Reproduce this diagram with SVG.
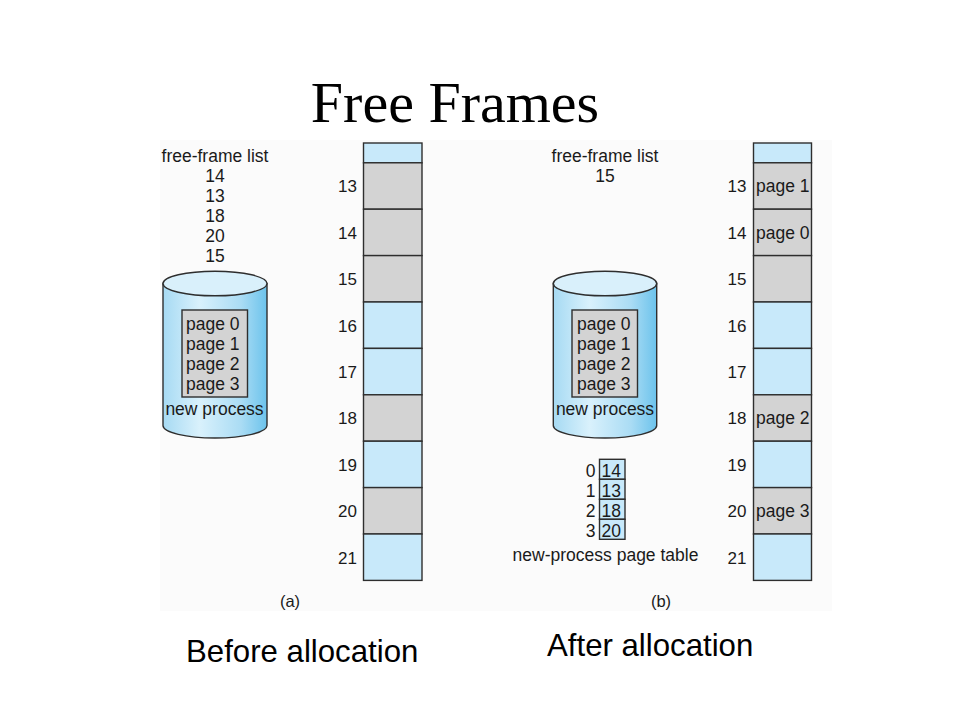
<svg xmlns="http://www.w3.org/2000/svg" width="960" height="720" viewBox="0 0 960 720">
<style>
.t{font-family:"Liberation Sans",Arial,sans-serif;font-size:17.5px;fill:#1a1a1a}
.c{text-anchor:middle}
.e{text-anchor:end}
.blue{fill:#c8e9fa;stroke:#2e2e2e;stroke-width:1.4}
.grey{fill:#d3d3d3;stroke:#2e2e2e;stroke-width:1.4}
.cyl{fill:url(#cg);stroke:#2e2e2e;stroke-width:1.4}
.cyltop{fill:#d9f0fb;stroke:#2e2e2e;stroke-width:1.4}
.box{fill:#d3d3d3;stroke:#2e2e2e;stroke-width:1.4}
.big{font-family:"Liberation Sans",Arial,sans-serif;font-size:31.2px;fill:#000}
.lbl{font-size:17px}
</style>
<defs>
<linearGradient id="cg" x1="0" y1="0" x2="1" y2="0">
<stop offset="0" stop-color="#a6daf3"/>
<stop offset="0.35" stop-color="#d9f1fc"/>
<stop offset="0.75" stop-color="#aadcf4"/>
<stop offset="1" stop-color="#6cc3ec"/>
</linearGradient>
</defs>
<rect width="960" height="720" fill="#ffffff"/>
<rect x="160" y="140" width="672" height="471" fill="#fbfbfb"/>
<text x="455" y="122" text-anchor="middle" font-family="Liberation Serif,'Times New Roman',serif" font-size="58" fill="#000">Free Frames</text>

<g id="panel-a">
<g id="freelist-a">
<text class="t c" x="215" y="162">free-frame list</text>
<text class="t c" x="215" y="182">14</text>
<text class="t c" x="215" y="202">13</text>
<text class="t c" x="215" y="222">18</text>
<text class="t c" x="215" y="242">20</text>
<text class="t c" x="215" y="262">15</text>
</g>
<g id="disk-a">
<path class="cyl" d="M163,283.5 V425.5 A52,12.5 0 0 0 267,425.5 V283.5 Z"/>
<ellipse class="cyltop" cx="215" cy="283.5" rx="52" ry="12.3"/>
<rect class="box" x="182" y="310" width="65.5" height="87"/>
<text class="t" x="186" y="330">page 0</text>
<text class="t" x="186" y="350">page 1</text>
<text class="t" x="186" y="370">page 2</text>
<text class="t" x="186" y="390">page 3</text>
<text class="t c" x="214.5" y="415">new process</text>
</g>
<g id="memory-a">
<rect class="blue" x="363.5" y="143" width="58.5" height="19.8"/>
<rect class="grey" x="363.5" y="162.8" width="58.5" height="46.4"/>
<rect class="grey" x="363.5" y="209.2" width="58.5" height="46.4"/>
<rect class="grey" x="363.5" y="255.6" width="58.5" height="46.4"/>
<rect class="blue" x="363.5" y="302" width="58.5" height="46.4"/>
<rect class="blue" x="363.5" y="348.4" width="58.5" height="46.4"/>
<rect class="grey" x="363.5" y="394.8" width="58.5" height="46.4"/>
<rect class="blue" x="363.5" y="441.2" width="58.5" height="46.4"/>
<rect class="grey" x="363.5" y="487.6" width="58.5" height="46.4"/>
<rect class="blue" x="363.5" y="534" width="58.5" height="46.4"/>
<text class="t e lbl" x="357" y="192">13</text>
<text class="t e lbl" x="357" y="238.5">14</text>
<text class="t e lbl" x="357" y="285">15</text>
<text class="t e lbl" x="357" y="331.5">16</text>
<text class="t e lbl" x="357" y="378">17</text>
<text class="t e lbl" x="357" y="424">18</text>
<text class="t e lbl" x="357" y="470.5">19</text>
<text class="t e lbl" x="357" y="517">20</text>
<text class="t e lbl" x="357" y="563.5">21</text>
</g>
<text class="t c" x="290" y="607" style="font-size:16.5px">(a)</text>
</g>

<g id="panel-b">
<g id="freelist-b">
<text class="t c" x="605" y="162">free-frame list</text>
<text class="t c" x="605" y="182">15</text>
</g>
<g id="disk-b">
<path class="cyl" d="M553.3,283.5 V425.5 A51.7,12.5 0 0 0 656.7,425.5 V283.5 Z"/>
<ellipse class="cyltop" cx="605" cy="283.5" rx="51.7" ry="12.3"/>
<rect class="box" x="572" y="310" width="65.5" height="87"/>
<text class="t" x="577" y="330">page 0</text>
<text class="t" x="577" y="350">page 1</text>
<text class="t" x="577" y="370">page 2</text>
<text class="t" x="577" y="390">page 3</text>
<text class="t c" x="605" y="415">new process</text>
</g>
<g id="pagetable">
<rect class="blue" x="599.5" y="459.3" width="25.5" height="20"/>
<rect class="blue" x="599.5" y="479.3" width="25.5" height="20"/>
<rect class="blue" x="599.5" y="499.3" width="25.5" height="20"/>
<rect class="blue" x="599.5" y="519.3" width="25.5" height="20"/>
<text class="t e" x="595.5" y="476.5">0</text>
<text class="t e" x="595.5" y="496.5">1</text>
<text class="t e" x="595.5" y="516.5">2</text>
<text class="t e" x="595.5" y="536.5">3</text>
<text class="t" x="601.5" y="476.5">14</text>
<text class="t" x="601.5" y="496.5">13</text>
<text class="t" x="601.5" y="516.5">18</text>
<text class="t" x="601.5" y="536.5">20</text>
<text class="t c" x="605.5" y="561">new-process page table</text>
</g>
<g id="memory-b">
<rect class="blue" x="753.5" y="143" width="58" height="19.8"/>
<rect class="grey" x="753.5" y="162.8" width="58" height="46.4"/>
<rect class="grey" x="753.5" y="209.2" width="58" height="46.4"/>
<rect class="grey" x="753.5" y="255.6" width="58" height="46.4"/>
<rect class="blue" x="753.5" y="302" width="58" height="46.4"/>
<rect class="blue" x="753.5" y="348.4" width="58" height="46.4"/>
<rect class="grey" x="753.5" y="394.8" width="58" height="46.4"/>
<rect class="blue" x="753.5" y="441.2" width="58" height="46.4"/>
<rect class="grey" x="753.5" y="487.6" width="58" height="46.4"/>
<rect class="blue" x="753.5" y="534" width="58" height="46.4"/>
<text class="t e lbl" x="746.5" y="192">13</text>
<text class="t e lbl" x="746.5" y="238.5">14</text>
<text class="t e lbl" x="746.5" y="285">15</text>
<text class="t e lbl" x="746.5" y="331.5">16</text>
<text class="t e lbl" x="746.5" y="378">17</text>
<text class="t e lbl" x="746.5" y="424">18</text>
<text class="t e lbl" x="746.5" y="470.5">19</text>
<text class="t e lbl" x="746.5" y="517">20</text>
<text class="t e lbl" x="746.5" y="563.5">21</text>
<text class="t" x="756" y="192">page 1</text>
<text class="t" x="756" y="238.5">page 0</text>
<text class="t" x="756" y="424">page 2</text>
<text class="t" x="756" y="517">page 3</text>
</g>
<text class="t c" x="661" y="607" style="font-size:16.5px">(b)</text>
</g>

<g id="connectors"></g>

<text class="big" x="186" y="662">Before allocation</text>
<text class="big" x="547" y="656">After allocation</text>
</svg>
